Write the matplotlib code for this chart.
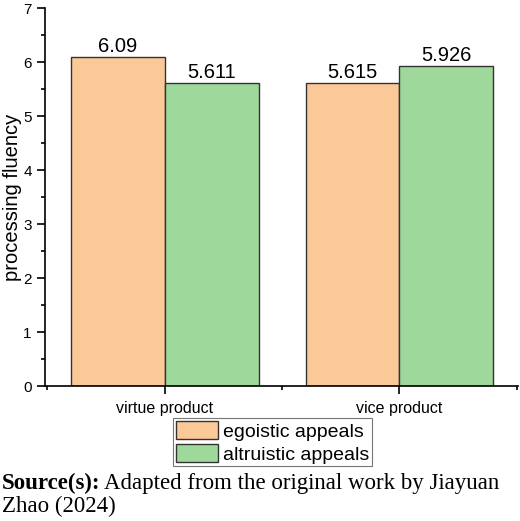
import matplotlib.pyplot as plt
import numpy as np
from matplotlib.ticker import MultipleLocator

products = ['virtue product', 'vice product']
egoistic = [6.09, 5.615]
altruistic = [5.611, 5.926]
series_names = ['egoistic appeals', 'altruistic appeals']

plt.rcParams['font.family'] = ['Liberation Sans', 'DejaVu Sans']

fig = plt.figure(figsize=(5.2, 5.21), dpi=100)
ax = fig.add_axes([0.0865, 0.259, 0.9096, 0.7255])

x = np.arange(1, len(products) + 1)
w = 0.4
b1 = ax.bar(x - w / 2, egoistic, w, color='#fbc898', edgecolor='#333333', linewidth=1, label=series_names[0])
b2 = ax.bar(x + w / 2, altruistic, w, color='#9fd89b', edgecolor='#333333', linewidth=1, label=series_names[1])

for bars, vals in ((b1, egoistic), (b2, altruistic)):
    for r, v in zip(bars, vals):
        ax.text(r.get_x() + r.get_width() / 2, v + 0.02, '{:g}'.format(v),
                ha='center', va='bottom', fontsize=14.5)

ax.set_xlim(0.49, 2.505)
ax.set_ylim(0, 7)
ax.set_xticks(x)
ax.set_xticklabels(products)
ax.xaxis.set_minor_locator(MultipleLocator(0.5))
ax.yaxis.set_major_locator(MultipleLocator(1))
ax.yaxis.set_minor_locator(MultipleLocator(0.5))
ax.tick_params(axis='both', which='major', direction='out', length=6, width=1.2, labelsize=11)
ax.tick_params(axis='x', labelsize=11.5, pad=5)
ax.tick_params(axis='both', which='minor', direction='out', length=3, width=1.2)
ax.set_ylabel('processing fluency', fontsize=14.5, labelpad=1)

for s in ('top', 'right'):
    ax.spines[s].set_visible(False)
for s in ('left', 'bottom'):
    ax.spines[s].set_linewidth(1.2)

leg = ax.legend(loc='upper center', bbox_to_anchor=(0.481, -0.084), fontsize=14,
                frameon=True, fancybox=False, edgecolor='#555555',
                handlelength=2.2, handleheight=1.1, handletextpad=0.25,
                borderpad=0.15, labelspacing=0.15, borderaxespad=0)
leg.get_frame().set_linewidth(0.8)

# source note, bold lead-in then plain text
t1 = fig.text(0.003, 0.0614, 'Source(s):', fontsize=16.5, family='Liberation Serif',
              weight='bold', va='baseline')
fig.canvas.draw()
bb = t1.get_window_extent().transformed(fig.transFigure.inverted())
fig.text(bb.x1 + 0.008, 0.0614, 'Adapted from the original work by Jiayuan',
         fontsize=16.5, family='Liberation Serif', va='baseline')
fig.text(0.003, 0.0173, 'Zhao (2024)', fontsize=16.5, family='Liberation Serif', va='baseline')

fig.savefig('out.png', dpi=100)
